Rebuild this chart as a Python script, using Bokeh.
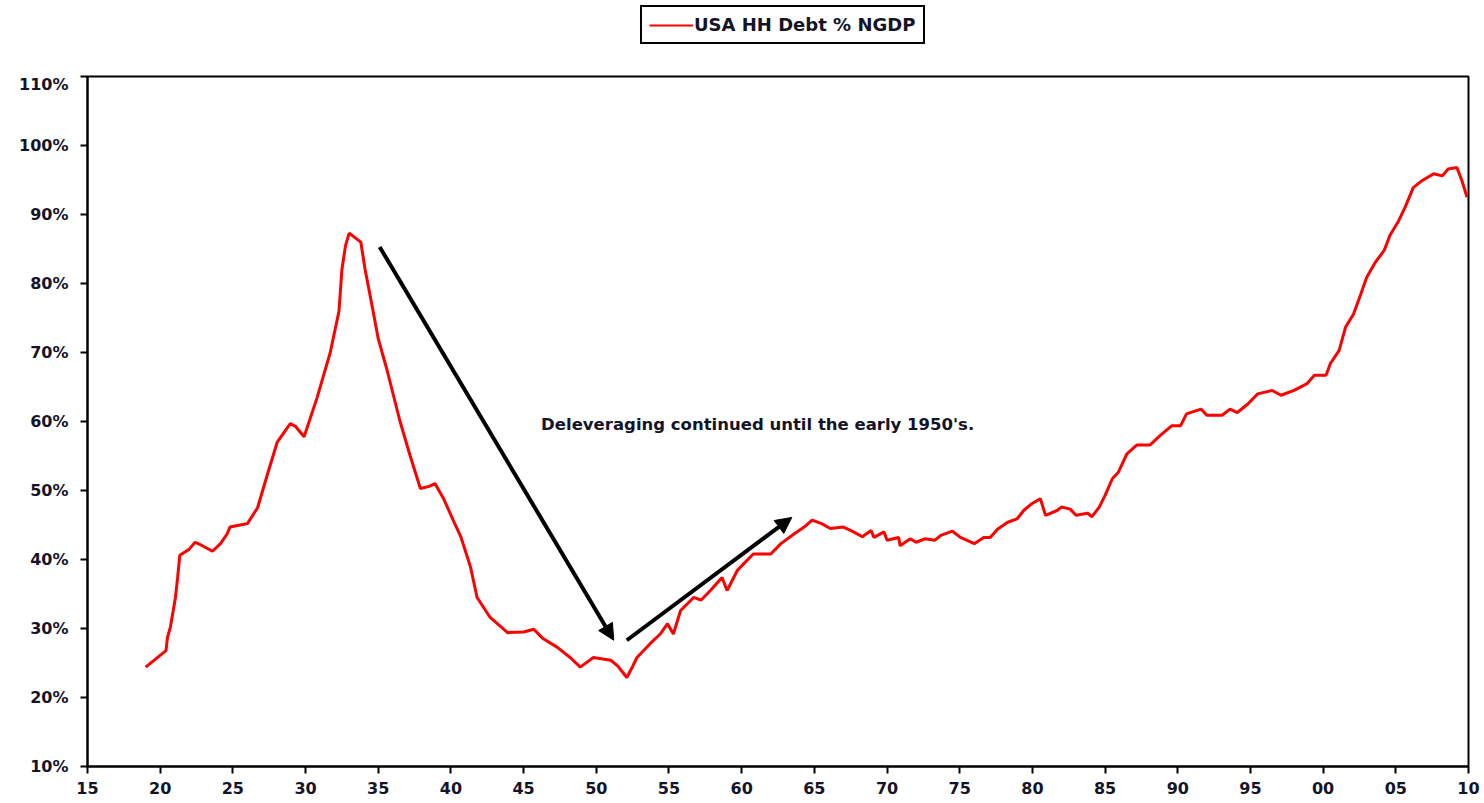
from bokeh.plotting import figure
from bokeh.layouts import column
from bokeh.models import (Legend, LegendItem, Arrow, NormalHead, Label, FixedTicker,
                          PrintfTickFormatter, Range1d)
from bokeh.embed import file_html
from bokeh.resources import INLINE

# ---- data ----
years = [1919.0, 1919.7, 1920.4, 1920.5, 1920.7, 1920.9, 1921.05, 1921.2, 1921.35, 1922.0,
         1922.4, 1922.9, 1923.6, 1924.15, 1924.6, 1924.8, 1925.5, 1926.0, 1926.7, 1927.4,
         1928.05, 1928.95, 1929.3, 1929.9, 1930.8, 1931.7, 1932.3, 1932.5, 1932.75, 1933.0,
         1933.8, 1934.1, 1934.6, 1935.0, 1935.6, 1936.5, 1937.2, 1937.9, 1938.5, 1938.9,
         1939.5, 1940.2, 1940.7, 1941.35, 1941.8, 1942.7, 1943.9, 1945.0, 1945.7, 1946.3,
         1947.3, 1948.2, 1948.9, 1949.8, 1951.0, 1951.5, 1952.1, 1952.5, 1952.8, 1953.7,
         1954.4, 1954.9, 1955.3, 1955.8, 1956.7, 1957.2, 1957.85, 1958.65, 1959.0, 1959.7,
         1960.15, 1960.8, 1962.0, 1962.7, 1963.6, 1964.3, 1964.85, 1965.5, 1966.1, 1967.0,
         1967.7, 1968.3, 1968.9, 1969.1, 1969.8, 1970.0, 1970.8, 1970.9, 1971.6, 1972.0,
         1972.6, 1973.3, 1973.7, 1974.5, 1975.05, 1976.0, 1976.65, 1977.1, 1977.6, 1978.3,
         1978.95, 1979.4, 1979.9, 1980.55, 1980.9, 1981.7, 1982.0, 1982.6, 1983.0, 1983.8,
         1984.1, 1984.6, 1985.0, 1985.5, 1985.9, 1986.5, 1987.2, 1988.1, 1988.8, 1989.6,
         1990.2, 1990.6, 1991.6, 1992.0, 1993.05, 1993.6, 1994.1, 1994.8, 1995.5, 1996.5,
         1997.1, 1998.0, 1998.9, 1999.4, 2000.2, 2000.5, 2001.1, 2001.55, 2002.1, 2002.6,
         2003.0, 2003.6, 2004.2, 2004.6, 2005.2, 2005.65, 2006.2, 2006.8, 2007.6, 2008.2,
         2008.6, 2009.2, 2009.55, 2009.9]
debt_pct = [24.4, 25.6, 26.8, 28.7, 30.2, 32.6, 34.5, 37.4, 40.6, 41.5,
            42.5, 42.0, 41.2, 42.3, 43.7, 44.7, 45.0, 45.2, 47.5, 52.5,
            57.0, 59.7, 59.3, 57.8, 63.5, 70.0, 76.0, 82.0, 85.5, 87.3,
            86.0, 82.0, 76.5, 72.0, 67.5, 60.0, 55.0, 50.3, 50.6, 51.0,
            48.8, 45.5, 43.2, 38.9, 34.5, 31.6, 29.4, 29.5, 29.9, 28.6,
            27.3, 25.8, 24.4, 25.8, 25.4, 24.5, 22.9, 24.5, 25.8, 27.8,
            29.2, 30.7, 29.2, 32.6, 34.5, 34.1, 35.5, 37.4, 35.5, 38.4,
            39.4, 40.8, 40.8, 42.3, 43.7, 44.7, 45.7, 45.2, 44.5, 44.7,
            44.0, 43.3, 44.2, 43.2, 44.0, 42.8, 43.2, 42.0, 43.0, 42.5,
            43.0, 42.8, 43.5, 44.1, 43.2, 42.3, 43.2, 43.2, 44.4, 45.4,
            45.9, 47.1, 48.0, 48.8, 46.4, 47.1, 47.6, 47.3, 46.4, 46.7,
            46.2, 47.6, 49.3, 51.7, 52.6, 55.3, 56.6, 56.6, 58.0, 59.4,
            59.4, 61.1, 61.8, 60.9, 60.9, 61.8, 61.3, 62.5, 64.0, 64.5,
            63.8, 64.5, 65.5, 66.7, 66.7, 68.4, 70.3, 73.7, 75.6, 78.5,
            80.9, 83.1, 84.8, 87.0, 89.1, 91.1, 93.9, 94.9, 95.9, 95.6,
            96.6, 96.8, 94.9, 92.5]

x_ticks = [1915, 1920, 1925, 1930, 1935, 1940, 1945, 1950, 1955, 1960,
           1965, 1970, 1975, 1980, 1985, 1990, 1995, 2000, 2005, 2010]
x_tick_labels = ["15", "20", "25", "30", "35", "40", "45", "50", "55", "60",
                 "65", "70", "75", "80", "85", "90", "95", "00", "05", "10"]
y_ticks = [10, 20, 30, 40, 50, 60, 70, 80, 90, 100, 110]
series_name = "USA HH Debt % NGDP"
note_text = "Deleveraging continued until the early 1950's."

FONT = "DejaVu Sans"
TXT = "#141428"
RED = "#ff0000"

# ---- main chart ----
p = figure(frame_width=1381, frame_height=690, output_backend="svg", toolbar_location=None,
           x_range=Range1d(1915, 2010), y_range=Range1d(10, 110),
           min_border_left=87, min_border_top=2, min_border_right=12, min_border_bottom=10)
p.background_fill_color = "white"
p.border_fill_color = "white"
p.outline_line_color = "black"
p.outline_line_width = 2
p.xgrid.visible = False
p.ygrid.visible = False

for ax in (p.xaxis[0], p.yaxis[0]):
    ax.axis_line_color = "black"
    ax.axis_line_width = 2
    ax.major_tick_line_color = "black"
    ax.major_tick_line_width = 2
    ax.major_tick_out = 7
    ax.major_tick_in = 0
    ax.minor_tick_line_color = None
    ax.major_label_text_font = FONT
    ax.major_label_text_font_style = "bold"
    ax.major_label_text_font_size = "16px"
    ax.major_label_text_color = TXT

p.xaxis.ticker = FixedTicker(ticks=x_ticks)
p.xaxis.major_label_overrides = {t: l for t, l in zip(x_ticks, x_tick_labels)}
p.xaxis.major_label_standoff = 8
p.yaxis.ticker = FixedTicker(ticks=y_ticks)
p.yaxis.formatter = PrintfTickFormatter(format="%d%%")
p.yaxis.major_label_standoff = 12

p.line(years, debt_pct, line_color=RED, line_width=3)

# annotation arrows
p.add_layout(Arrow(end=NormalHead(size=16, fill_color="black", line_color="black"),
                   x_start=1935.1, y_start=85.3, x_end=1951.2, y_end=28.3,
                   line_color="black", line_width=4))
p.add_layout(Arrow(end=NormalHead(size=16, fill_color="black", line_color="black"),
                   x_start=1952.1, y_start=28.3, x_end=1963.45, y_end=46.1,
                   line_color="black", line_width=4))

p.add_layout(Label(x=1961.1, y=59.6, text=note_text, text_align="center",
                   text_baseline="middle", text_font=FONT, text_font_style="bold",
                   text_font_size="16.5px", text_color=TXT))

# ---- legend strip above the chart ----
lg = figure(width=1480, height=74, output_backend="svg", toolbar_location=None,
            x_range=Range1d(0, 1), y_range=Range1d(0, 1),
            x_axis_location=None, y_axis_location=None,
            min_border_left=0, min_border_right=0, min_border_top=0, min_border_bottom=0)
lg.xgrid.visible = False
lg.ygrid.visible = False
lg.outline_line_color = None
lg.background_fill_color = "white"
lg.border_fill_color = "white"
key = lg.line(x=[float("nan")], y=[float("nan")], line_color=RED, line_width=2)

legend = Legend(items=[LegendItem(label=series_name, renderers=[key])],
                location=(553, 30), orientation="horizontal",
                border_line_color="black", border_line_width=2, border_line_alpha=1,
                background_fill_color="white", background_fill_alpha=1,
                padding=7, margin=0, spacing=0,
                glyph_width=44, glyph_height=20, label_standoff=1,
                label_height=20, label_width=222,
                label_text_font=FONT, label_text_font_style="bold",
                label_text_font_size="18px", label_text_color=TXT)
lg.add_layout(legend, "center")

layout = column(lg, p, spacing=0)
open("out.html", "w").write(file_html(layout, INLINE))
